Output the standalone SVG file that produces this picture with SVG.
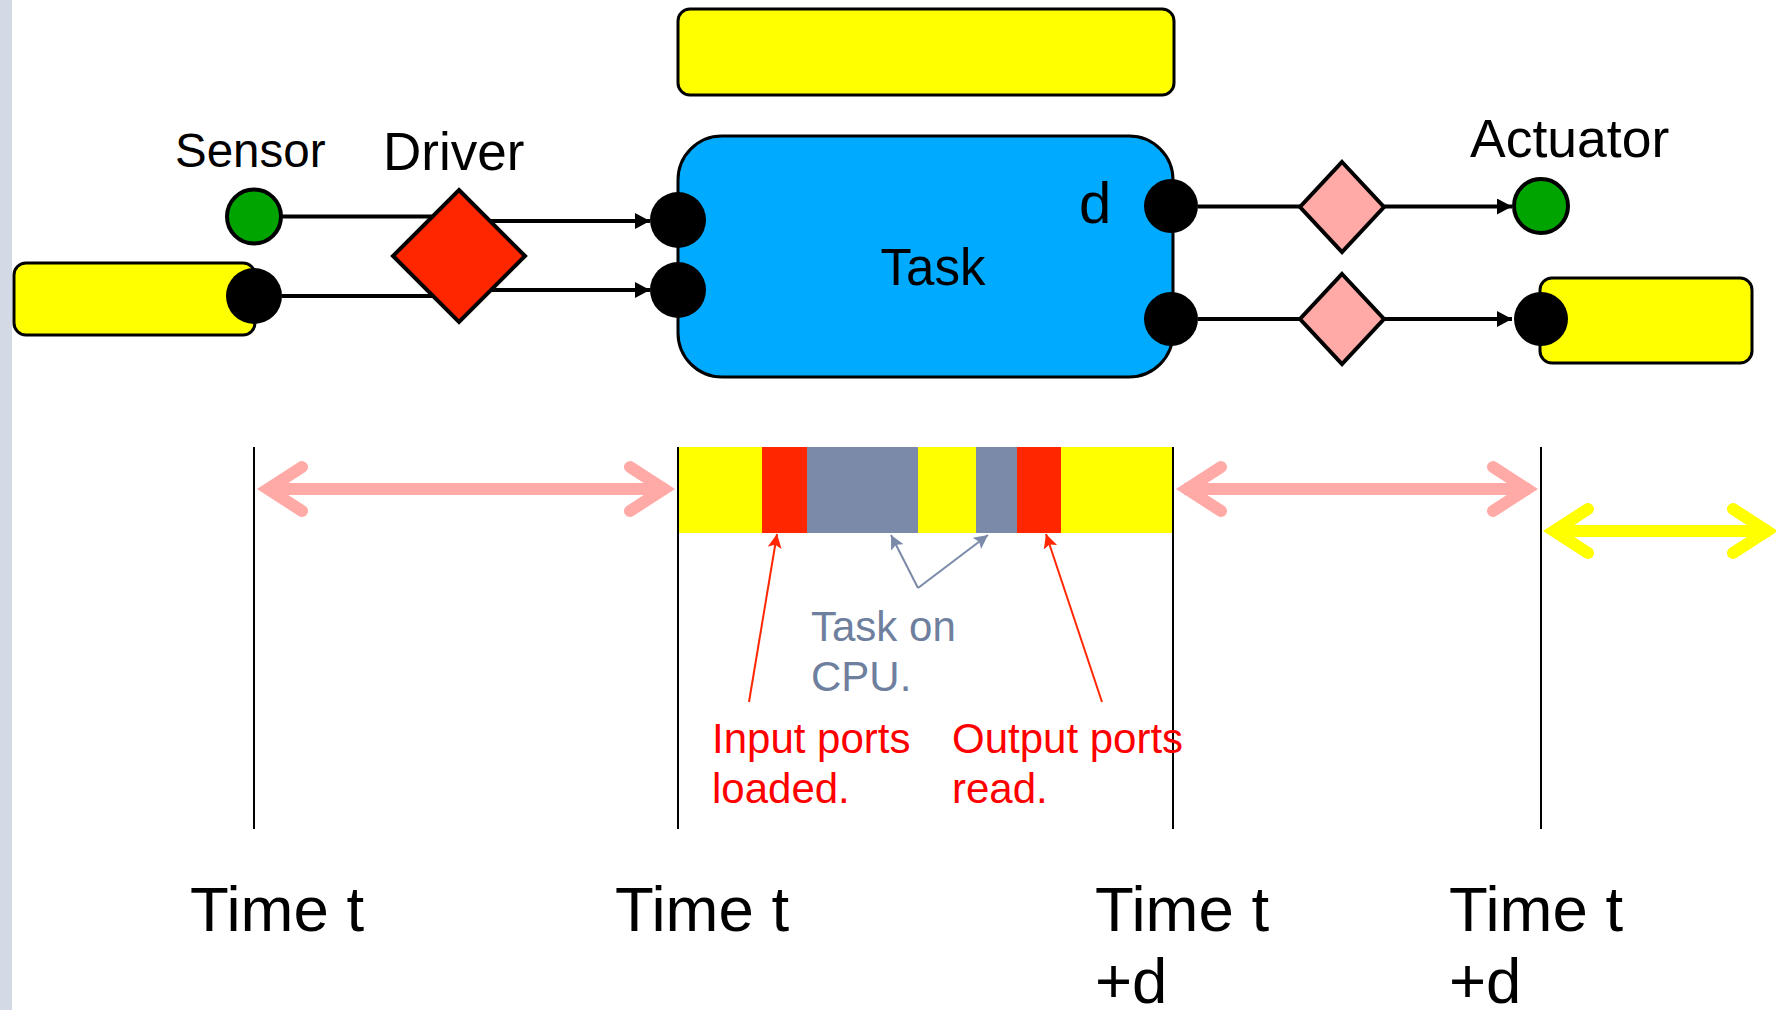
<svg xmlns="http://www.w3.org/2000/svg" width="1776" height="1010" viewBox="0 0 1776 1010">
<defs>
<style>
text{font-family:"Liberation Sans",Arial,sans-serif;}
.lbl{fill:#000;}
.conn{stroke:#000;stroke-width:4;fill:none;}
.port{fill:#000;}
.vline{stroke:#000;stroke-width:2;}
.pink{stroke:#ffaaa6;stroke-width:12;fill:none;stroke-linecap:round;}
.pinkshaft{stroke:#ffaaa6;stroke-width:12;fill:none;}
.yel{stroke:#ffff00;stroke-width:12;fill:none;stroke-linecap:round;}
.yelshaft{stroke:#ffff00;stroke-width:12;fill:none;}
.redline{stroke:#ff2600;stroke-width:2;fill:none;}
.grayline{stroke:#7a8aa8;stroke-width:2;fill:none;}
.time{font-size:63.5px;fill:#000;}
</style>
<marker id="ab" markerUnits="userSpaceOnUse" markerWidth="16" markerHeight="18" refX="15" refY="8" orient="auto"><path d="M0,0 L15,8 L0,16 z" fill="#000"/></marker>
<marker id="ar" markerUnits="userSpaceOnUse" markerWidth="16" markerHeight="16" refX="14" refY="7" orient="auto"><path d="M0,0 L14,7 L0,14 L3,7 z" fill="#ff2600"/></marker>
<marker id="ag" markerUnits="userSpaceOnUse" markerWidth="16" markerHeight="16" refX="14" refY="7" orient="auto"><path d="M0,0 L14,7 L0,14 L3,7 z" fill="#7a8aa8"/></marker>
</defs>
<rect x="0" y="0" width="1776" height="1010" fill="#fff"/>
<rect x="0" y="0" width="12" height="1010" fill="#d3d9e5"/>

<g id="connectors">
<path class="conn" d="M282,216.5 H459"/>
<path class="conn" d="M459,221 H650" marker-end="url(#ab)"/>
<path class="conn" d="M282,296 H459"/>
<path class="conn" d="M459,290 H650" marker-end="url(#ab)"/>
<path class="conn" d="M1198,206.5 H1512" marker-end="url(#ab)"/>
<path class="conn" d="M1198,319 H1512" marker-end="url(#ab)"/>
</g>

<g id="shared-bar">
<rect x="678" y="9" width="496" height="86" rx="12" fill="#ffff00" stroke="#000" stroke-width="3"/>
</g>

<g id="task">
<rect x="678" y="136" width="495" height="241" rx="44" fill="#00aaff" stroke="#000" stroke-width="3"/>
<text x="933" y="285" font-size="51" text-anchor="middle" class="lbl">Task</text>
<text x="1079" y="223" font-size="58" class="lbl">d</text>
<circle class="port" cx="678" cy="220" r="28"/>
<circle class="port" cx="678" cy="290" r="28"/>
<circle class="port" cx="1171" cy="206" r="27"/>
<circle class="port" cx="1171" cy="319" r="27"/>
</g>

<g id="sensor">
<circle cx="254" cy="216.5" r="27" fill="#00a400" stroke="#000" stroke-width="4"/>
<text x="175" y="167" font-size="47.5" class="lbl">Sensor</text>
</g>

<g id="input-buffer">
<rect x="14" y="263" width="241" height="72" rx="12" fill="#ffff00" stroke="#000" stroke-width="3"/>
<circle class="port" cx="254" cy="296" r="28"/>
</g>

<g id="driver">
<polygon points="459,190 525,256 459,322 393,256" fill="#ff2600" stroke="#000" stroke-width="4"/>
<text x="383" y="170" font-size="53" class="lbl">Driver</text>
</g>

<g id="out-diamond-1">
<polygon points="1342,162 1384,207 1342,252 1300,207" fill="#ffaaa6" stroke="#000" stroke-width="4"/>
</g>
<g id="out-diamond-2">
<polygon points="1342,274 1384,319 1342,364 1300,319" fill="#ffaaa6" stroke="#000" stroke-width="4"/>
</g>

<g id="actuator">
<circle cx="1541" cy="206" r="27" fill="#00a400" stroke="#000" stroke-width="4"/>
<text x="1470" y="157" font-size="53.5" class="lbl">Actuator</text>
</g>

<g id="output-buffer">
<rect x="1540" y="278" width="212" height="85" rx="12" fill="#ffff00" stroke="#000" stroke-width="3"/>
<circle class="port" cx="1541" cy="319" r="27"/>
</g>

<g id="timeline">
<rect x="678" y="447" width="84" height="86" fill="#ffff00"/>
<rect x="762" y="447" width="45" height="86" fill="#ff2600"/>
<rect x="807" y="447" width="111" height="86" fill="#7a8aa8"/>
<rect x="918" y="447" width="58" height="86" fill="#ffff00"/>
<rect x="976" y="447" width="41" height="86" fill="#7a8aa8"/>
<rect x="1017" y="447" width="44" height="86" fill="#ff2600"/>
<rect x="1061" y="447" width="112" height="86" fill="#ffff00"/>
<line class="vline" x1="254" y1="447" x2="254" y2="829"/>
<line class="vline" x1="678" y1="447" x2="678" y2="829"/>
<line class="vline" x1="1173" y1="447" x2="1173" y2="829"/>
<line class="vline" x1="1541" y1="447" x2="1541" y2="829"/>

<path class="pinkshaft" d="M266,489 H666"/>
<path class="pink" d="M302,467 L268,489 L302,511"/>
<path class="pink" d="M630,467 L664,489 L630,511"/>
<path class="pinkshaft" d="M1184,489 H1530"/>
<path class="pink" d="M1221,467 L1187,489 L1221,511"/>
<path class="pink" d="M1493,467 L1527,489 L1493,511"/>
<path class="yelshaft" d="M1552,531 H1770"/>
<path class="yel" d="M1588,509 L1554,531 L1588,553"/>
<path class="yel" d="M1733,509 L1767,531 L1733,553"/>

<path class="redline" d="M749,702 L777,534" marker-end="url(#ar)"/>
<path class="redline" d="M1102,702 L1046,534" marker-end="url(#ar)"/>
<path class="grayline" d="M918,588 L891,535" marker-end="url(#ag)"/>
<path class="grayline" d="M918,588 L988,535" marker-end="url(#ag)"/>

<text x="811" y="641" font-size="42" fill="#6f7f9e">Task on</text>
<text x="811" y="691" font-size="42" fill="#6f7f9e">CPU.</text>
<text x="712" y="753" font-size="42" fill="#ff0000">Input ports</text>
<text x="712" y="803" font-size="42" fill="#ff0000">loaded.</text>
<text x="952" y="753" font-size="42" fill="#ff0000">Output ports</text>
<text x="952" y="803" font-size="42" fill="#ff0000">read.</text>

<text x="190" y="931" class="time">Time t</text>
<text x="615" y="931" class="time">Time t</text>
<text x="1095" y="931" class="time">Time t</text>
<text x="1095" y="1003" class="time">+d</text>
<text x="1449" y="931" class="time">Time t</text>
<text x="1449" y="1003" class="time">+d</text>
</g>
</svg>
